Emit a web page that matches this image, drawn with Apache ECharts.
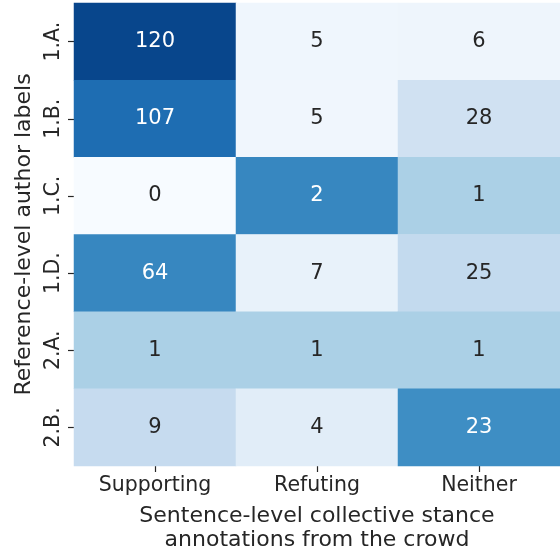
<!DOCTYPE html>
<html><head><meta charset="utf-8">
<script src="https://cdn.jsdelivr.net/npm/echarts@6/dist/echarts.min.js"></script>
<style>html,body{margin:0;padding:0;background:#fff}#c{width:560px;height:554px}</style>
</head><body><div id="c"></div>
<script>
const columns = ["Supporting", "Refuting", "Neither"];
const rows = ["1.A.", "1.B.", "1.C.", "1.D.", "2.A.", "2.B."];
const counts = [
  [120, 5, 6],
  [107, 5, 28],
  [0, 2, 1],
  [64, 7, 25],
  [1, 1, 1],
  [9, 4, 23]
];
const xTitle = "Sentence-level collective stance\nannotations from the crowd";
const yTitle = "Reference-level author labels";

const data = [];
counts.forEach((r, i) => {
  const s = r.reduce((a, b) => a + b, 0);
  r.forEach((v, j) => {
    const f = s ? v / s : 0;
    data.push({value: [j, i, v, f], label: {color: f > 0.5 ? '#ffffff' : '#262626'}});
  });
});

const chart = echarts.init(document.getElementById('c'));
chart.setOption({
  animation: false,
  textStyle: {fontFamily: 'DejaVu Sans'},
  grid: {left: 74, right: 0, top: 3, bottom: 88, containLabel: false, outerBoundsMode: 'none'},
  xAxis: {
    type: 'category', data: columns,
    name: xTitle, nameLocation: 'middle', nameGap: 38,
    nameTextStyle: {fontSize: 22, color: '#262626', lineHeight: 24, fontFamily: 'DejaVu Sans'},
    axisLine: {show: false},
    axisTick: {show: true, alignWithLabel: true, length: 6, lineStyle: {color: '#262626', width: 1.2}},
    axisLabel: {fontSize: 20.5, color: '#262626', margin: 9, fontFamily: 'DejaVu Sans'},
    splitLine: {show: false}
  },
  yAxis: {
    type: 'category', data: rows, inverse: true,
    name: yTitle, nameLocation: 'middle', nameGap: 39, nameRotate: 90,
    nameTextStyle: {fontSize: 22, color: '#262626', fontFamily: 'DejaVu Sans'},
    axisLine: {show: false},
    axisTick: {show: true, alignWithLabel: true, length: 6, lineStyle: {color: '#262626', width: 1.2}},
    axisLabel: {fontSize: 20.5, color: '#262626', rotate: 90, margin: 10, fontFamily: 'DejaVu Sans'},
    splitLine: {show: false}
  },
  visualMap: {
    show: false, min: 0, max: 1, dimension: 3, calculable: false,
    inRange: {color: ['#f7fbff', '#deebf7', '#c6dbef', '#9ecae1', '#6baed6', '#4292c6', '#2171b5', '#08519c', '#08306b']}
  },
  series: [{
    type: 'heatmap', data: data,
    label: {show: true, fontSize: 21, fontFamily: 'DejaVu Sans', formatter: p => String(p.value[2])},
    itemStyle: {borderWidth: 0},
    emphasis: {disabled: true}
  }]
});
</script></body></html>
